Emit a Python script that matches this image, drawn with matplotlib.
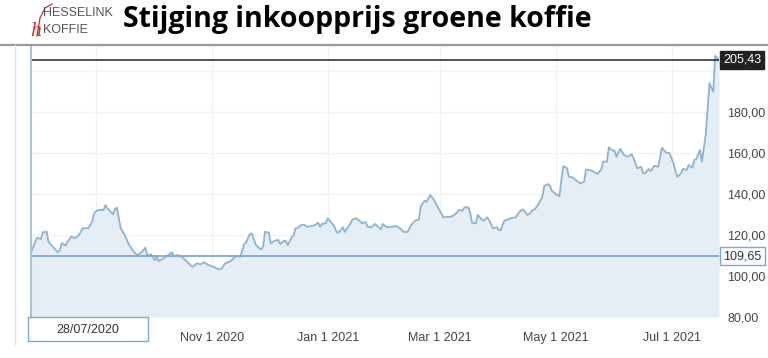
import pandas as pd
import matplotlib
matplotlib.use("Agg")
import matplotlib.pyplot as plt
import matplotlib.dates as mdates
from matplotlib.patches import Rectangle
from matplotlib.lines import Line2D

# prijs groene koffie (US cent/lb), dagen sinds 28/07/2020
start_date = "2020-07-28"
days = [0, 2, 4, 6, 7, 9, 10, 13, 15, 16, 17, 19, 20, 22, 24, 26, 28, 31, 33, 34,
        36, 39, 40, 41, 44, 45, 46, 48, 50, 52, 55, 57, 59, 61, 62, 64, 66, 67, 68, 70,
        73, 75, 76, 78, 80, 83, 85, 86, 88, 90, 92, 94, 97, 99, 101, 103, 106, 107, 109, 111,
        113, 114, 116, 117, 119, 120, 122, 123, 124, 126, 127, 129, 131, 132, 134, 135, 136, 138, 139, 140,
        141, 143, 145, 146, 148, 150, 152, 153, 154, 156, 157, 159, 160, 162, 163, 165, 166, 169, 170, 172,
        174, 175, 177, 178, 180, 182, 183, 185, 186, 188, 191, 193, 195, 197, 199, 201, 203, 205, 206, 208,
        209, 211, 213, 215, 218, 221, 223, 225, 226, 228, 229, 231, 232, 233, 235, 236, 238, 239, 241, 242,
        244, 246, 247, 248, 250, 252, 253, 256, 257, 259, 260, 262, 263, 265, 266, 268, 270, 271, 273, 274,
        275, 277, 279, 280, 281, 283, 284, 286, 288, 290, 292, 293, 295, 297, 299, 301, 302, 304, 305, 306,
        308, 309, 311, 313, 315, 317, 318, 320, 322, 323, 324, 326, 327, 329, 331, 333, 335, 337, 339, 341,
        343, 344, 346, 347, 349, 350, 351, 353, 354, 356, 358, 360, 361, 363]
prices = [109.65, 114.3, 118.7, 118.0, 121.3, 121.6, 116.7, 113.5, 111.6, 112.7,
          116.0, 114.8, 116.7, 119.2, 118.4, 120.0, 123.3, 123.3, 126.5, 130.6,
          132.2, 132.2, 134.6, 133.0, 130.1, 132.7, 133.3, 123.3, 120.3, 116.0,
          111.6, 110.2, 111.6, 113.8, 109.9, 110.6, 107.8, 109.3, 107.3, 108.3,
          110.2, 111.6, 109.6, 110.2, 109.6, 107.0, 105.0, 104.5, 106.2, 105.7,
          106.7, 105.4, 104.5, 103.4, 103.4, 106.2, 107.3, 108.3, 109.9, 109.4,
          115.6, 116.3, 120.5, 120.8, 115.6, 114.3, 113.0, 114.3, 121.6, 121.1,
          116.0, 117.2, 117.6, 115.6, 117.2, 117.1, 115.1, 118.9, 119.5, 123.3,
          123.3, 124.9, 124.9, 124.0, 124.3, 124.7, 126.0, 124.0, 125.4, 125.7,
          128.1, 126.0, 124.9, 121.1, 121.5, 123.8, 121.5, 125.7, 127.6, 128.1,
          126.8, 125.7, 126.3, 124.0, 123.8, 125.4, 124.4, 122.8, 125.4, 123.8,
          124.0, 124.4, 123.3, 121.5, 121.5, 124.9, 127.0, 127.6, 134.1, 136.7,
          136.2, 139.5, 137.1, 133.5, 128.6, 128.9, 129.3, 130.9, 132.2, 131.9,
          133.5, 133.5, 130.9, 126.0, 125.7, 129.8, 127.6, 127.0, 128.6, 127.3,
          123.3, 123.8, 122.4, 122.4, 127.0, 127.6, 128.1, 128.6, 130.2, 132.2,
          132.5, 129.8, 130.2, 132.2, 132.5, 135.1, 138.7, 143.9, 144.9, 143.9,
          141.6, 140.0, 139.0, 146.8, 153.7, 152.5, 148.4, 148.1, 146.5, 145.2,
          146.0, 152.0, 151.7, 150.9, 149.8, 152.0, 155.8, 155.8, 162.8, 161.8,
          161.0, 158.2, 162.0, 159.0, 158.2, 159.4, 157.4, 152.5, 153.3, 150.1,
          150.1, 152.2, 151.2, 153.8, 153.3, 162.6, 160.3, 159.9, 155.0, 148.4,
          150.1, 152.2, 151.7, 154.1, 152.8, 156.6, 157.1, 161.5, 155.8, 168.8,
          194.0, 189.9, 207.5, 205.43]

start_price = 109.65
last_price = 205.43
y_ticks = [80, 100, 120, 140, 160, 180, 200]
y_labels = ["80,00", "100,00", "120,00", "140,00", "160,00", "180,00", ""]

dates = pd.Timestamp(start_date) + pd.to_timedelta(days, unit="D")

line_col = "#8db3d3"
fill_col = "#e5edf5"
blue = "#7da7d9"


def month_label(v, pos):
    d = mdates.num2date(v)
    if d.month == 9:  # zit achter het datum-label
        return ""
    return "{:%b} {} {}".format(d, d.day, d.year)


fig = plt.figure(figsize=(7.68, 3.58), dpi=100)
ax = fig.add_axes([29.5 / 768, 1 - 317 / 358, (719 - 29.5) / 768, (317 - 45) / 358])

ax.fill_between(dates, prices, 80, color=fill_col, lw=0, zorder=1)
ax.plot(dates, prices, color=line_col, lw=1.3, zorder=3)

ax.axhline(last_price, color="#333333", lw=1.2, zorder=4)
ax.axhline(start_price, color=blue, lw=1.3, zorder=4)
ax.axvline(dates[0], color="#a9c3df", lw=2.2, zorder=4)

ax.set_xlim(dates[0], dates[-1])
ax.set_ylim(80, 212.7)

ax.xaxis.set_major_locator(mdates.MonthLocator(bymonth=[1, 3, 5, 7, 9, 11]))
ax.xaxis.set_major_formatter(plt.FuncFormatter(month_label))
ax.set_yticks(y_ticks)
ax.set_yticklabels(y_labels)
ax.yaxis.tick_right()

ax.grid(True, color="#f2f2f2", lw=1)
ax.set_axisbelow(True)
ax.tick_params(length=0, labelsize=9, labelcolor="#444444")
ax.tick_params(axis="x", pad=11)
ax.tick_params(axis="y", pad=6)
for s in ax.spines.values():
    s.set_visible(False)
for t in ax.get_xticklabels() + ax.get_yticklabels():
    t.set_family("Liberation Sans")

# waarde-labels rechts
ax.annotate("205,43", xy=(1, last_price), xycoords=("axes fraction", "data"),
            xytext=(3, 0), textcoords="offset points", ha="left", va="center",
            fontsize=9, family="Liberation Sans", color="white",
            bbox=dict(boxstyle="square,pad=0.25", fc="#222222", ec="#222222"), zorder=6)
ax.annotate("109,65", xy=(1, start_price), xycoords=("axes fraction", "data"),
            xytext=(3, 0), textcoords="offset points", ha="left", va="center",
            fontsize=9, family="Liberation Sans", color="#333333",
            bbox=dict(boxstyle="square,pad=0.25", fc="white", ec=blue, lw=1), zorder=6)

# datum-label linksonder
fig.patches.append(Rectangle((28 / 768, 1 - 341 / 358), 120 / 768, 24 / 358,
                             transform=fig.transFigure, fc="white", ec=blue, lw=1, zorder=5))
fig.text(88 / 768, 1 - 330 / 358, "28/07/2020", ha="center", va="center",
         fontsize=9, family="Liberation Sans", color="#333333", zorder=6)

# kader en kopregel
fig.lines.append(Line2D([0, 1], [1 - 45 / 358] * 2, transform=fig.transFigure,
                        color="#9a9a9a", lw=1.6))
fig.lines.append(Line2D([15 / 768] * 2, [1 - 45 / 358, 1 - 345 / 358],
                        transform=fig.transFigure, color="#e2e2e2", lw=1))

fig.text(123 / 768, 1 - 20 / 358, "Stijging inkoopprijs groene koffie", ha="left", va="center",
         fontsize=20.5, fontweight="bold", family="Open Sans", color="black")

# logo
fig.text(43 / 768, 1 - 13 / 358, "HESSELINK", ha="left", va="center", fontsize=9,
         family="Liberation Sans", color="#555555")
fig.text(43 / 768, 1 - 30 / 358, "KOFFIE", ha="left", va="center", fontsize=9,
         family="Liberation Sans", color="#555555")
fig.text(36 / 768, 1 - 31 / 358, "h", ha="center", va="center", fontsize=13,
         family="DejaVu Serif", style="italic", color="#d62a2a")
fig.lines.append(Line2D([37 / 768, 40 / 768, 45 / 768, 52 / 768],
                        [1 - 36 / 358, 1 - 18 / 358, 1 - 8 / 358, 1 - 4 / 358],
                        transform=fig.transFigure, color="#d62a2a", lw=0.9))

fig.savefig("out.png", dpi=100)
